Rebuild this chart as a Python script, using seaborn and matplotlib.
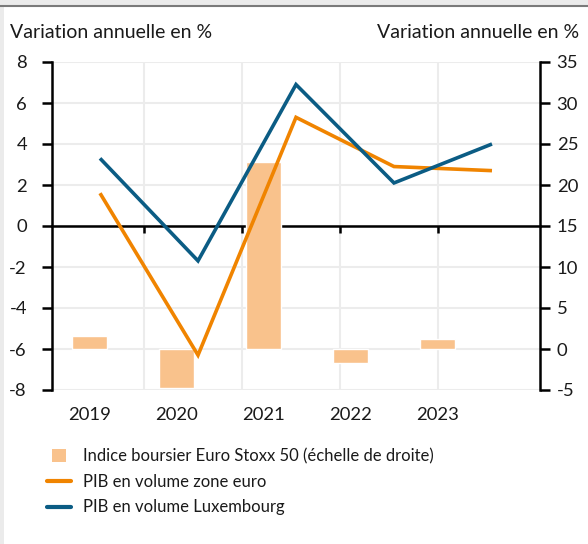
import matplotlib
matplotlib.use("Agg")
import matplotlib.pyplot as plt
import seaborn as sns
import pandas as pd
from matplotlib.patches import Rectangle, Patch
from matplotlib.lines import Line2D
from matplotlib.legend_handler import HandlerPatch

# ---- data ----
years = [2019, 2020, 2021, 2022, 2023]
stoxx = [1.6, -4.7, 22.8, -1.7, 1.2]          # right axis
pib_euro = [1.6, -6.3, 5.3, 2.9, 2.7]         # left axis
pib_lux = [3.3, -1.7, 6.9, 2.1, 4.0]          # left axis
left_ticks = [-8, -6, -4, -2, 0, 2, 4, 6, 8]
right_ticks = [-5, 0, 5, 10, 15, 20, 25, 30, 35]
axis_title = "Variation annuelle en %"
labels = ["Indice boursier Euro Stoxx 50 (échelle de droite)",
          "PIB en volume zone euro",
          "PIB en volume Luxembourg"]

C_BAR = "#f9c28c"
C_ORANGE = "#f08400"
C_BLUE = "#0b5c84"
C_GRID = "#ececec"
C_TEXT = "#1a1a1a"
FS = 13.3

sns.set_theme(style="white")
plt.rcParams["font.family"] = ["Lato", "DejaVu Sans"]
plt.rcParams["axes.unicode_minus"] = False

fig = plt.figure(figsize=(5.88, 5.44), dpi=100)
fig.patch.set_facecolor("#ebebeb")
# white card + top rule
fig.add_artist(Rectangle((4 / 588, 0), 1, 1 - 7 / 544, transform=fig.transFigure,
                         facecolor="white", edgecolor="none", zorder=0))
fig.add_artist(Line2D([0, 1], [1 - 5.5 / 544] * 2, transform=fig.transFigure,
                      color="#7a7a7a", lw=1.5, zorder=1))

rect = [52 / 588, 1 - 390 / 544, 488 / 588, 328 / 544]
ax = fig.add_axes(rect, zorder=1)          # grid, zero line, left axis
ax_bar = fig.add_axes(rect, zorder=2)      # bars, right axis, x labels
ax_line = fig.add_axes(rect, zorder=3, sharex=ax, sharey=ax)  # lines

for a in (ax, ax_bar, ax_line):
    a.set_facecolor("none")

# back axis
ax.set_xlim(years[0] - 0.49, years[-1] + 0.49)
ax.set_ylim(left_ticks[0], left_ticks[-1])
ax.set_yticks(left_ticks)
ax.set_xticks([y + 0.45 for y in years[:-1]])
ax.set_xticklabels([])
ax.grid(True, color=C_GRID, lw=1.5)
for s in ("top", "right"):
    ax.spines[s].set_visible(False)
ax.spines["left"].set_color("black")
ax.spines["left"].set_linewidth(1.8)
ax.spines["bottom"].set_position(("data", 0))
ax.spines["bottom"].set_color("black")
ax.spines["bottom"].set_linewidth(1.8)
ax.tick_params(axis="y", direction="out", length=7, width=1.8, color="black",
               pad=11, labelsize=FS, labelcolor=C_TEXT, left=True)
ax.tick_params(axis="x", direction="out", length=5, width=1.8, color="black",
               bottom=True)

# bars
df_bar = pd.DataFrame({"year": [str(y) for y in years], "val": stoxx})
sns.barplot(data=df_bar, x="year", y="val", ax=ax_bar, color=C_BAR,
            width=0.4, saturation=1)
ax_bar.set_xlim(-0.431, 5.178)
ax_bar.set_ylim(right_ticks[0], right_ticks[-1])
ax_bar.set_yticks(right_ticks)
ax_bar.yaxis.tick_right()
ax_bar.set_xlabel("")
ax_bar.set_ylabel("")
for s in ("top", "left", "bottom"):
    ax_bar.spines[s].set_visible(False)
ax_bar.spines["right"].set_visible(True)
ax_bar.spines["right"].set_color("black")
ax_bar.spines["right"].set_linewidth(1.8)
ax_bar.tick_params(axis="y", direction="out", length=7, width=1.8, color="black",
                   pad=5, labelsize=FS, labelcolor=C_TEXT, right=True, left=False)
ax_bar.tick_params(axis="x", length=0, pad=12, labelsize=FS, labelcolor=C_TEXT)
ax_bar.grid(False)

# lines
df_line = pd.DataFrame({"year": years * 2,
                        "val": pib_euro + pib_lux,
                        "serie": [labels[1]] * 5 + [labels[2]] * 5})
sns.lineplot(data=df_line, x="year", y="val", hue="serie",
             palette={labels[1]: C_ORANGE, labels[2]: C_BLUE},
             ax=ax_line, lw=2.6, legend=False, solid_capstyle="butt",
             solid_joinstyle="miter")
ax_line.axis("off")

# titles
fig.text(10 / 588, 1 - 33 / 544, axis_title, ha="left", va="center",
         fontsize=14, color=C_TEXT)
fig.text(579 / 588, 1 - 33 / 544, axis_title, ha="right", va="center",
         fontsize=14, color=C_TEXT)

# legend
def small_patch(legend, orig_handle, xdescent, ydescent, width, height, fontsize):
    w = width * 0.57
    h = height * 1.1
    return Rectangle((-xdescent + (width - w) / 2, -ydescent + (height - h) / 2), w, h)

handles = [Patch(facecolor=C_BAR, edgecolor="none"),
           Line2D([], [], color=C_ORANGE, lw=3),
           Line2D([], [], color=C_BLUE, lw=3)]
fig.legend(handles, labels, loc="upper left", bbox_to_anchor=(47 / 588, 1 - 448 / 544),
           frameon=False, fontsize=12.0, handlelength=1.45, handletextpad=0.72,
           labelspacing=0.58, borderpad=0, borderaxespad=0, labelcolor=C_TEXT,
           handler_map={Patch: HandlerPatch(patch_func=small_patch)})

fig.savefig("out.png", dpi=100, facecolor=fig.get_facecolor())
